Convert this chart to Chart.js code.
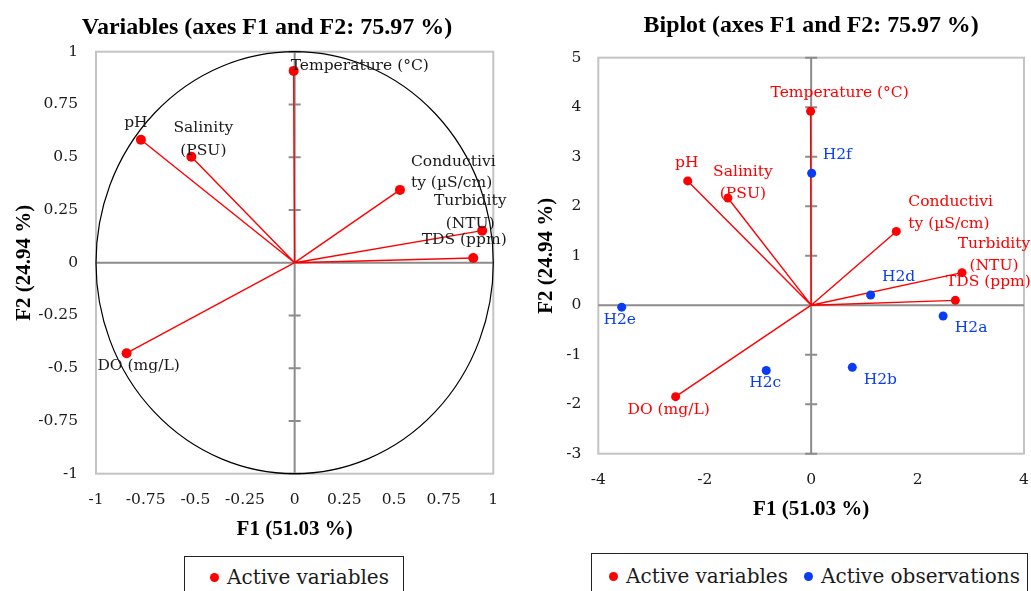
<!DOCTYPE html>
<html>
<head>
<meta charset="utf-8">
<script src="https://cdn.jsdelivr.net/npm/chart.js@4/dist/chart.umd.min.js"></script>
<style>
  html, body { margin: 0; padding: 0; background: #fff; overflow: hidden; }
  body { width: 1031px; height: 591px; position: relative; font-family: "DejaVu Serif", serif; }
  .wrap { position: absolute; top: 0; overflow: hidden; }
  .legend { position: absolute; border: 1px solid #222; box-sizing: border-box; background: #fff; }
  .legend span { position: absolute; white-space: nowrap; font-size: 20px; color: #1a1a1a; line-height: 24px; }
  .legend i { position: absolute; width: 9px; height: 9px; border-radius: 50%; }
</style>
</head>
<body>
<div class="wrap" style="left:0;width:520px;height:545px;"><canvas id="c1" width="534" height="545"></canvas></div>
<div class="wrap" style="left:520px;width:511px;height:545px;"><canvas id="c2" width="529" height="545"></canvas></div>

<div class="legend" style="left:184px;top:556px;width:220px;height:50px;">
  <i style="left:25px;top:16px;background:#ff0000;"></i>
  <span style="left:42px;top:8px;">Active variables</span>
</div>
<div class="legend" style="left:591px;top:553px;width:437px;height:50px;">
  <i style="left:17px;top:18px;background:#ff0000;"></i>
  <span style="left:34px;top:10px;">Active variables</span>
  <i style="left:212px;top:18px;background:#0a3cf5;"></i>
  <span style="left:229px;top:10px;">Active observations</span>
</div>

<script>
// ---------- DATA ----------
const variableNames = ['Temperature (°C)', 'pH', 'Salinity (PSU)', 'Conductivity (µS/cm)', 'Turbidity (NTU)', 'TDS (ppm)', 'DO (mg/L)'];
// Correlation circle (left chart)
const corrF1 = [-0.005, -0.774, -0.520, 0.530, 0.944, 0.899, -0.846];
const corrF2 = [0.909, 0.583, 0.502, 0.345, 0.152, 0.022, -0.429];
// Biplot (right chart) - variables
const bipVarF1 = [-0.01, -2.32, -1.564, 1.60, 2.835, 2.71, -2.547];
const bipVarF2 = [3.917, 2.51, 2.166, 1.49, 0.657, 0.098, -1.848];
// Biplot - observations
const obsNames = ['H2a', 'H2b', 'H2c', 'H2d', 'H2e', 'H2f'];
const obsF1 = [2.48, 0.773, -0.844, 1.118, -3.56, 0.01];
const obsF2 = [-0.218, -1.256, -1.32, 0.206, -0.04, 2.665];
// Axis ticks
const corrTicks = [-1, -0.75, -0.5, -0.25, 0, 0.25, 0.5, 0.75, 1];
const bipXTicks = [-4, -2, 0, 2, 4];
const bipYTicks = [-3, -2, -1, 0, 1, 2, 3, 4, 5];

// ---------- STYLE (label placement, in px relative to the point) ----------
const leftLabelStyle = [
  {lines: ['Temperature (°C)'], align: 'left', dx: -3, dy: [-5]},
  {lines: ['pH'], align: 'center', dx: -5, dy: [-17]},
  {lines: ['Salinity', '(PSU)'], align: 'center', dx: 12, dy: [-29, -6]},
  {lines: ['Conductivi', 'ty (µS/cm)'], align: 'left', dx: 11, dy: [-28, -7]},
  {lines: ['Turbidity', '(NTU)'], align: 'center', dx: -12, dy: [-30, -7]},
  {lines: ['TDS (ppm)'], align: 'center', dx: -9, dy: [-18]},
  {lines: ['DO (mg/L)'], align: 'center', dx: 12, dy: [13]}
];
const rightVarLabelStyle = [
  {lines: ['Temperature (°C)'], align: 'center', dx: 29, dy: [-18]},
  {lines: ['pH'], align: 'center', dx: -1, dy: [-18]},
  {lines: ['Salinity', '(PSU)'], align: 'center', dx: 15, dy: [-26, -4]},
  {lines: ['Conductivi', 'ty (µS/cm)'], align: 'left', dx: 12, dy: [-29, -7]},
  {lines: ['Turbidity', '(NTU)'], align: 'center', dx: 32, dy: [-29, -7]},
  {lines: ['TDS (ppm)'], align: 'center', dx: 33, dy: [-18]},
  {lines: ['DO (mg/L)'], align: 'center', dx: -7, dy: [13]}
];
const rightObsLabelStyle = [
  {align: 'center', dx: 28, dy: [12]},
  {align: 'center', dx: 28, dy: [13]},
  {align: 'center', dx: -1, dy: [12]},
  {align: 'center', dx: 28, dy: [-18]},
  {align: 'center', dx: -2, dy: [13]},
  {align: 'left', dx: 11, dy: [-18]}
];

const RED = '#ff0000', BLUE = '#0a3cf5';
const LABEL_FONT = '15.5px "DejaVu Serif"';

function pts(xs, ys) { return xs.map((x, i) => ({x: x, y: ys[i]})); }

// ---------- PLUGINS ----------
const framePlugin = {
  id: 'frame',
  beforeDatasetsDraw(chart, args, opts) {
    const {ctx, chartArea: a, scales: {x, y}} = chart;
    const x0 = x.getPixelForValue(0), y0 = y.getPixelForValue(0);
    ctx.save();
    // plot border
    ctx.strokeStyle = '#c4c4c4'; ctx.lineWidth = 2;
    ctx.strokeRect(a.left, a.top, a.right - a.left, a.bottom - a.top);
    // zero axes
    ctx.strokeStyle = '#8c8c8c'; ctx.lineWidth = 2;
    ctx.beginPath();
    ctx.moveTo(a.left, y0); ctx.lineTo(a.right, y0);
    ctx.moveTo(x0, a.top); ctx.lineTo(x0, a.bottom);
    y.ticks.forEach(t => {
      const py = y.getPixelForValue(t.value);
      ctx.moveTo(x0 - 6, py); ctx.lineTo(x0 + 6, py);
    });
    ctx.stroke();
    // unit circle
    if (opts.circle) {
      ctx.strokeStyle = '#000'; ctx.lineWidth = 1.2;
      ctx.beginPath();
      ctx.ellipse(x0, y0, x.getPixelForValue(1) - x0, y0 - y.getPixelForValue(1), 0, 0, Math.PI * 2);
      ctx.stroke();
    }
    // vectors from origin to each variable
    const meta = chart.getDatasetMeta(0);
    ctx.strokeStyle = RED; ctx.lineWidth = 1.4;
    ctx.beginPath();
    meta.data.forEach(el => { ctx.moveTo(x0, y0); ctx.lineTo(el.x, el.y); });
    ctx.stroke();
    ctx.restore();
  }
};

const labelPlugin = {
  id: 'ptlabels',
  afterDatasetsDraw(chart, args, opts) {
    const {ctx} = chart;
    ctx.save();
    ctx.font = LABEL_FONT;
    ctx.textBaseline = 'middle';
    opts.sets.forEach(set => {
      const meta = chart.getDatasetMeta(set.ds);
      meta.data.forEach((el, i) => {
        const st = set.style[i];
        const lines = st.lines || [set.names[i]];
        ctx.fillStyle = set.color;
        ctx.textAlign = st.align;
        lines.forEach((ln, k) => ctx.fillText(ln, el.x + st.dx, el.y + st.dy[k]));
      });
    });
    ctx.restore();
  }
};

const fmt = v => String(+Number(v).toFixed(2));
const tickFont = {family: 'DejaVu Serif', size: 15.5};
const axisTitleFont = {family: 'Liberation Serif', size: 21, weight: 'bold'};

// ---------- LEFT CHART ----------
new Chart(document.getElementById('c1'), {
  type: 'scatter',
  data: {
    datasets: [{
      label: 'Active variables',
      data: pts(corrF1, corrF2),
      backgroundColor: RED, borderColor: RED, pointRadius: 5, pointBorderWidth: 0
    }]
  },
  options: {
    responsive: false, animation: false, devicePixelRatio: 1,
    layout: {padding: 0},
    plugins: {
      legend: {display: false},
      tooltip: {enabled: false},
      title: {display: true, text: 'Variables (axes F1 and F2: 75.97 %)', color: '#000',
              font: {family: 'Liberation Serif', size: 24, weight: 'bold', lineHeight: 1.2},
              padding: {top: 13.5, bottom: 9.4}},
      frame: {circle: true},
      ptlabels: {sets: [{ds: 0, names: variableNames, style: leftLabelStyle, color: '#1a1a1a'}]}
    },
    scales: {
      x: {
        type: 'linear', min: -1, max: 1,
        afterBuildTicks: s => { s.ticks = corrTicks.map(v => ({value: v})); },
        ticks: {callback: fmt, color: '#1a1a1a', font: tickFont, padding: 17, maxRotation: 0, autoSkip: false},
        grid: {display: false, drawTicks: false}, border: {display: false},
        title: {display: true, text: 'F1 (51.03 %)', color: '#000', font: axisTitleFont, padding: {top: 0, bottom: 3}},
        afterFit: s => { s.height = 71.3; }
      },
      y: {
        type: 'linear', min: -1, max: 1,
        afterBuildTicks: s => { s.ticks = corrTicks.map(v => ({value: v})); },
        ticks: {callback: fmt, color: '#1a1a1a', font: tickFont, padding: 18, autoSkip: false},
        grid: {display: false, drawTicks: false}, border: {display: false},
        title: {display: true, text: 'F2 (24.94 %)', color: '#000', font: axisTitleFont, padding: {top: 12.4, bottom: 0}},
        afterFit: s => { s.width = 96; }
      },
      yPad: {
        type: 'linear', position: 'right', min: -1, max: 1, display: true,
        ticks: {display: false}, grid: {display: false, drawTicks: false}, border: {display: false},
        afterFit: s => { s.width = 40.7; }
      }
    }
  },
  plugins: [framePlugin, labelPlugin]
});

// ---------- RIGHT CHART ----------
new Chart(document.getElementById('c2'), {
  type: 'scatter',
  data: {
    datasets: [{
      label: 'Active variables',
      data: pts(bipVarF1, bipVarF2),
      backgroundColor: RED, borderColor: RED, pointRadius: 4.5, pointBorderWidth: 0
    }, {
      label: 'Active observations',
      data: pts(obsF1, obsF2),
      backgroundColor: BLUE, borderColor: BLUE, pointRadius: 4.5, pointBorderWidth: 0
    }]
  },
  options: {
    responsive: false, animation: false, devicePixelRatio: 1,
    layout: {padding: 0},
    plugins: {
      legend: {display: false},
      tooltip: {enabled: false},
      title: {display: true, fullSize: false, text: 'Biplot (axes F1 and F2: 75.97 %)', color: '#000',
              font: {family: 'Liberation Serif', size: 23.9, weight: 'bold', lineHeight: 1.2},
              padding: {top: 11.6, bottom: 17.4}},
      frame: {circle: false},
      ptlabels: {sets: [
        {ds: 0, names: variableNames, style: rightVarLabelStyle, color: RED},
        {ds: 1, names: obsNames, style: rightObsLabelStyle, color: BLUE}
      ]}
    },
    scales: {
      x: {
        type: 'linear', min: -4, max: 4,
        afterBuildTicks: s => { s.ticks = bipXTicks.map(v => ({value: v})); },
        ticks: {callback: fmt, color: '#1a1a1a', font: tickFont, padding: 17, maxRotation: 0, autoSkip: false},
        grid: {display: false, drawTicks: false}, border: {display: false},
        title: {display: true, text: 'F1 (51.03 %)', color: '#000', font: axisTitleFont, padding: {top: 0, bottom: 22.5}},
        afterFit: s => { s.height = 91.3; }
      },
      y: {
        type: 'linear', min: -3, max: 5,
        afterBuildTicks: s => { s.ticks = bipYTicks.map(v => ({value: v})); },
        ticks: {callback: fmt, color: '#1a1a1a', font: tickFont, padding: 17, autoSkip: false},
        grid: {display: false, drawTicks: false}, border: {display: false},
        title: {display: true, text: 'F2 (24.94 %)', color: '#000', font: axisTitleFont, padding: {top: 14.1, bottom: 0}},
        afterFit: s => { s.width = 78.3; }
      },
      yPad: {
        type: 'linear', position: 'right', min: -3, max: 5, display: true,
        ticks: {display: false}, grid: {display: false, drawTicks: false}, border: {display: false},
        afterFit: s => { s.width = 25; }
      }
    }
  },
  plugins: [framePlugin, labelPlugin]
});
</script>
</body>
</html>
